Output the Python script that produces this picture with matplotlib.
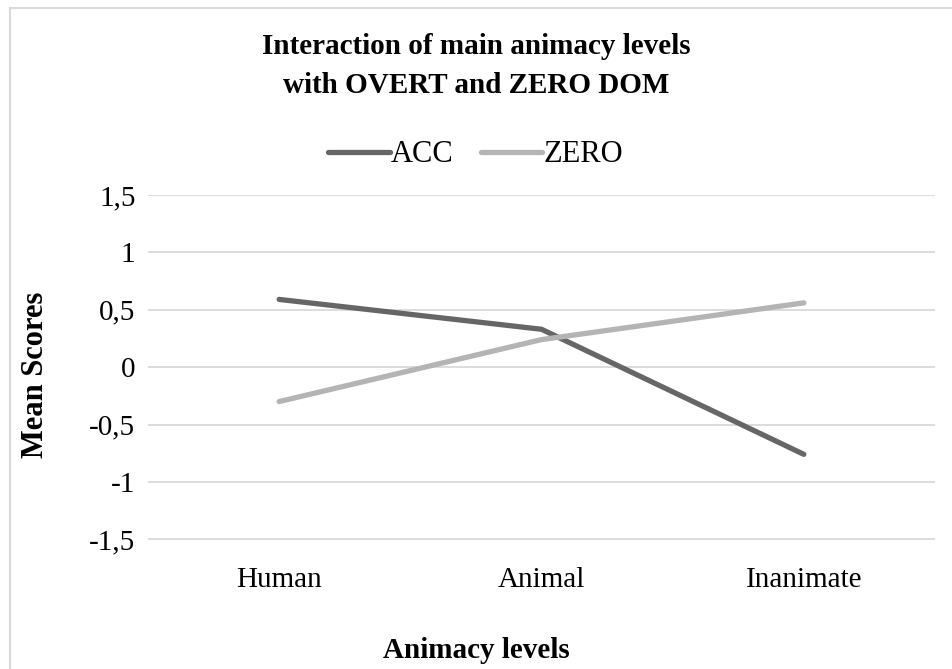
import matplotlib.pyplot as plt
from matplotlib.patches import Rectangle

categories = ["Human", "Animal", "Inanimate"]
acc = [0.59, 0.33, -0.76]
zero = [-0.30, 0.24, 0.56]
y_ticks = [-1.5, -1, -0.5, 0, 0.5, 1, 1.5]
y_labels = ["-1,5", "-1", "-0,5", "0", "0,5", "1", "1,5"]

plt.rcParams['font.family'] = ['Liberation Serif', 'DejaVu Serif']

fig = plt.figure(figsize=(9.52, 6.69), dpi=100)
ax = fig.add_axes([148 / 952, 1 - 545 / 669, 787 / 952, 350 / 669])

# outer chart frame
fig.patches.append(Rectangle((10 / 952, -0.02), 1.0, 1 - 8 / 669 + 0.02,
                             transform=fig.transFigure, fill=False,
                             edgecolor="#d9d9d9", linewidth=1.5))

x = range(len(categories))
ax.plot(x, acc, color="#666666", linewidth=3.8, label="ACC", solid_capstyle="round")
ax.plot(x, zero, color="#b4b4b4", linewidth=3.8, label="ZERO", solid_capstyle="round")

ax.set_xlim(-0.5, 2.5)
ax.set_ylim(-1.55, 1.5)
ax.set_yticks(y_ticks)
ax.set_yticklabels(y_labels, fontsize=21)
ax.set_xticks(list(x))
ax.set_xticklabels(categories, fontsize=21)
ax.tick_params(length=0, pad=9)
ax.tick_params(axis="x", pad=16)
ax.grid(axis="y", color="#d9d9d9", linewidth=1.3)
ax.set_axisbelow(True)
for s in ax.spines.values():
    s.set_visible(False)

fig.text(0.5, 1 - 66 / 669, "Interaction of main animacy levels\nwith OVERT and ZERO DOM",
         ha="center", va="center", fontsize=21, fontweight="bold", linespacing=1.55)
fig.legend(loc="center", bbox_to_anchor=(0.5, 1 - 155 / 669), ncol=2, frameon=False,
           fontsize=22, handlelength=2.0, handletextpad=0.05, columnspacing=0.9)
fig.text(36 / 952, 1 - 375 / 669, "Mean Scores", rotation=90, ha="center", va="center",
         fontsize=22, fontweight="bold")
fig.text(0.5, 1 - 650 / 669, "Animacy levels", ha="center", va="center",
         fontsize=21, fontweight="bold")

fig.savefig("out.png", dpi=100)
